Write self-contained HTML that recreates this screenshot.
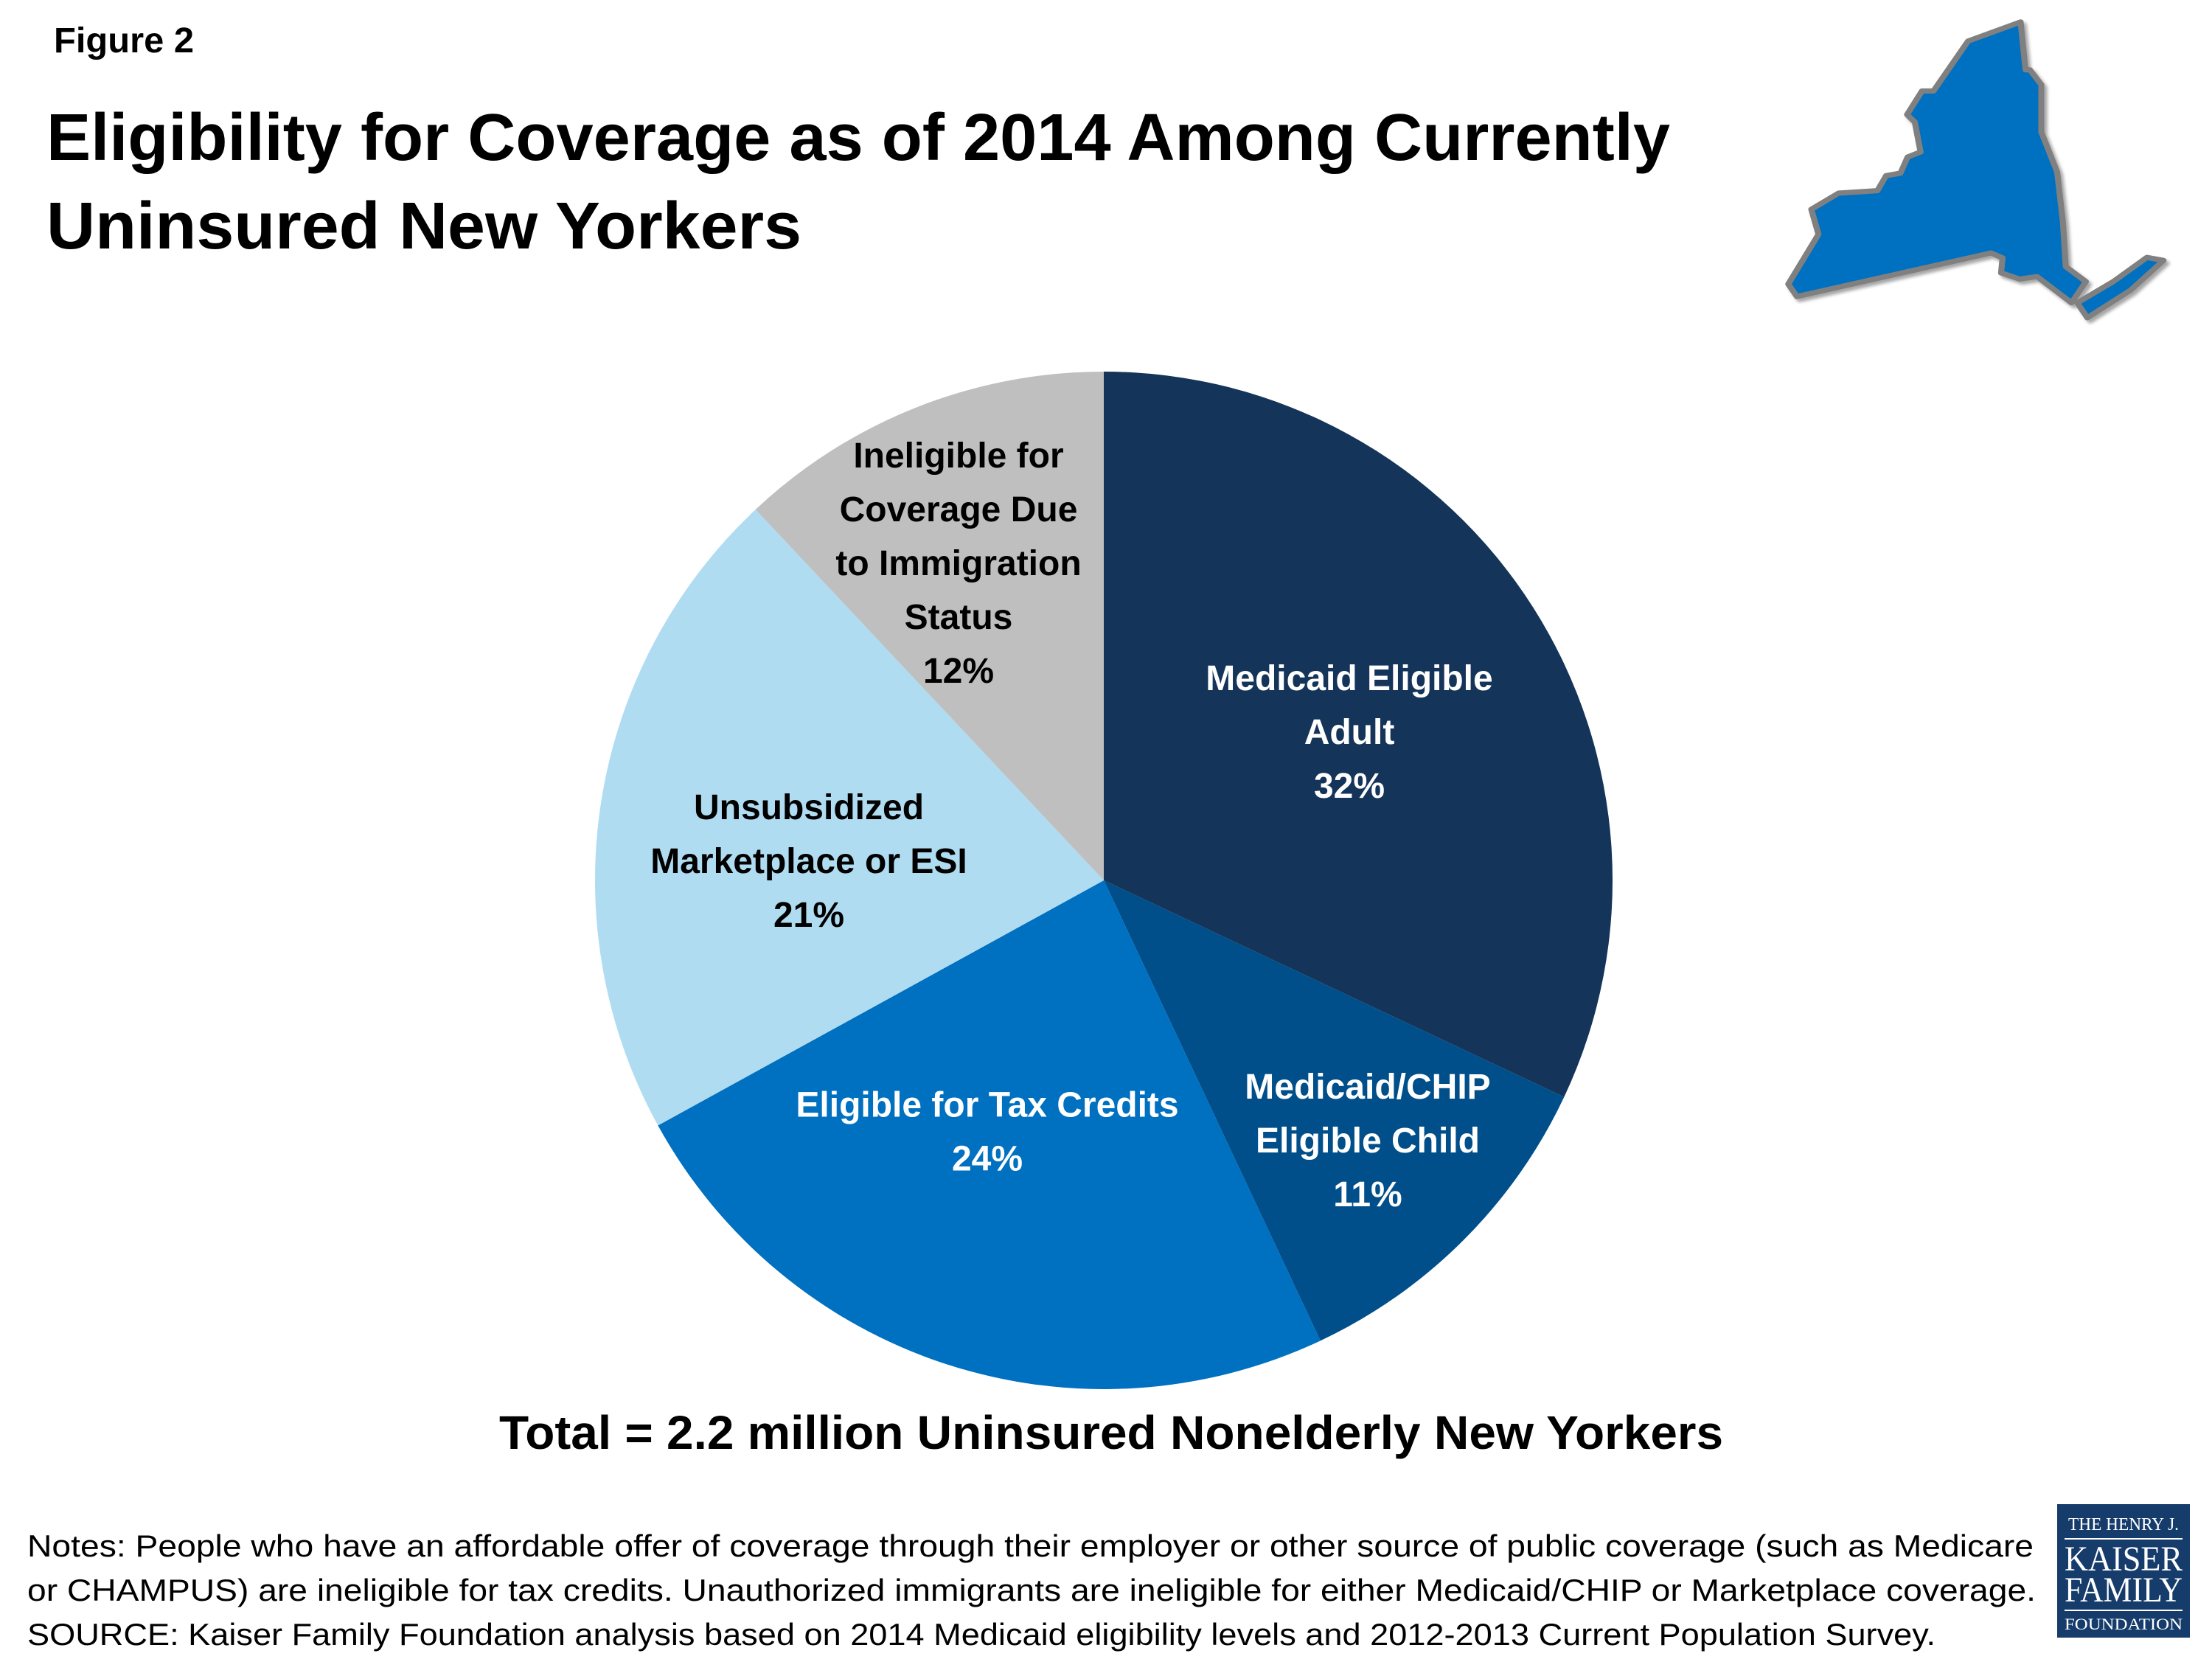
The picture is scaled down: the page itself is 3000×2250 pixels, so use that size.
<!DOCTYPE html>
<html><head><meta charset="utf-8"><style>
html,body{margin:0;padding:0;background:#fff;}
svg{display:block;font-family:"Liberation Sans",sans-serif;}
</style></head><body>
<svg id="chart" width="3000" height="2250" viewBox="0 0 3000 2250" xmlns="http://www.w3.org/2000/svg">
<defs><filter id="sh" x="-10%" y="-10%" width="130%" height="130%"><feGaussianBlur in="SourceAlpha" stdDeviation="6"/><feOffset dx="10" dy="12"/><feComponentTransfer><feFuncA type="linear" slope="0.35"/></feComponentTransfer><feMerge><feMergeNode/><feMergeNode in="SourceGraphic"/></feMerge></filter></defs>
<text x="73" y="71" font-size="48" font-weight="bold" textLength="190" lengthAdjust="spacingAndGlyphs">Figure 2</text>
<text x="63" y="217" font-size="90" font-weight="bold" textLength="2202" lengthAdjust="spacingAndGlyphs">Eligibility for Coverage as of 2014 Among Currently</text>
<text x="63" y="337" font-size="90" font-weight="bold" textLength="1024" lengthAdjust="spacingAndGlyphs">Uninsured New Yorkers</text>
<g transform="translate(2400,0) scale(0.39,0.338)" filter="url(#sh)">
<path d="M65,1140 L95,1190 L770,1015 L810,1035 L805,1095 L870,1120 L930,1110 L1050,1215 L1100,1130 L1030,1070 L1020,890 L1000,690 L945,530 L945,340 L905,280 L890,280 L873,88 L690,165 L570,365 L530,365 L478,460 L505,490 L525,610 L480,630 L455,695 L405,705 L375,765 L240,775 L145,840 L170,940 Z" fill="#0070c0" stroke="#808080" stroke-width="21" stroke-linejoin="round"/>
<path d="M1070,1215 L1105,1275 L1255,1165 L1370,1045 L1312,1033 L1195,1130 Z" fill="#0070c0" stroke="#808080" stroke-width="21" stroke-linejoin="round"/>
</g>
<g id="pie"></g>
<text x="677" y="1965" font-size="64" font-weight="bold" textLength="1660" lengthAdjust="spacingAndGlyphs">Total = 2.2 million Uninsured Nonelderly New Yorkers</text>
<g font-size="42">
<text x="37" y="2111" textLength="2721" lengthAdjust="spacingAndGlyphs">Notes: People who have an affordable offer of coverage through their employer or other source of public coverage (such as Medicare</text>
<text x="37" y="2171" textLength="2724" lengthAdjust="spacingAndGlyphs">or CHAMPUS) are ineligible for tax credits. Unauthorized immigrants are ineligible for either Medicaid/CHIP or Marketplace coverage.</text>
<text x="37" y="2231" textLength="2588" lengthAdjust="spacingAndGlyphs">SOURCE: Kaiser Family Foundation analysis based on 2014 Medicaid eligibility levels and 2012-2013 Current Population Survey.</text>
</g>
<g font-family="'Liberation Serif',serif" fill="#fff" text-anchor="middle">
<rect x="2790" y="2040" width="180" height="181" fill="#163c6b"/>
<text x="2880" y="2075" font-size="24" textLength="150" lengthAdjust="spacingAndGlyphs">THE HENRY J.</text>
<rect x="2800" y="2086" width="160" height="2" fill="#fff"/>
<text x="2880" y="2130" font-size="48" textLength="160" lengthAdjust="spacingAndGlyphs">KAISER</text>
<text x="2880" y="2172" font-size="48" textLength="160" lengthAdjust="spacingAndGlyphs">FAMILY</text>
<rect x="2800" y="2183" width="160" height="2" fill="#fff"/>
<text x="2880" y="2210" font-size="22" textLength="160" lengthAdjust="spacingAndGlyphs">FOUNDATION</text>
</g>
</svg>
<script>
const categories = ["Medicaid Eligible Adult","Medicaid/CHIP Eligible Child","Eligible for Tax Credits","Unsubsidized Marketplace or ESI","Ineligible for Coverage Due to Immigration Status"];
const values = [32, 11, 24, 21, 12];
const labelLines = [["Medicaid Eligible","Adult"],["Medicaid/CHIP","Eligible Child"],["Eligible for Tax Credits"],["Unsubsidized","Marketplace or ESI"],["Ineligible for","Coverage Due","to Immigration","Status"]];
const colors = ["#143459","#004f8a","#0070c0","#b0dcf2","#bfbfbf"];
const textColors = ["#fff","#fff","#fff","#000","#000"];
const labelPos = [[1830,992],[1855,1546],[1339,1534],[1097,1167],[1300,763]];
const NS="http://www.w3.org/2000/svg";
const cx=1497, cy=1194, r=690;
const g=document.getElementById('pie');
const total=values.reduce((a,b)=>a+b,0);
function pt(a){return [cx+r*Math.sin(a), cy-r*Math.cos(a)];}
let acc=0;
values.forEach((v,i)=>{
  const a0=acc/total*2*Math.PI; acc+=v; const a1=acc/total*2*Math.PI;
  const p0=pt(a0), p1=pt(a1);
  const path=document.createElementNS(NS,'path');
  path.setAttribute('d',`M${cx},${cy} L${p0[0]},${p0[1]} A${r},${r} 0 ${a1-a0>Math.PI?1:0} 1 ${p1[0]},${p1[1]} Z`);
  path.setAttribute('fill',colors[i]);
  
  
  g.appendChild(path);
  const lines=labelLines[i].concat([v+'%']);
  const lh=73;
  const startY=labelPos[i][1]-(lines.length-1)*lh/2;
  const t=document.createElementNS(NS,'text');
  
  
  t.setAttribute('text-anchor','middle');
  t.setAttribute('font-size','48');
  t.setAttribute('font-weight','bold');
  t.setAttribute('fill',textColors[i]);
  lines.forEach((ln,j)=>{
    const s=document.createElementNS(NS,'tspan');
    s.setAttribute('x',labelPos[i][0]);
    s.setAttribute('y',startY+j*lh+17);
    s.textContent=ln;
    t.appendChild(s);
  });
  g.appendChild(t);
});
</script>
</body></html>
